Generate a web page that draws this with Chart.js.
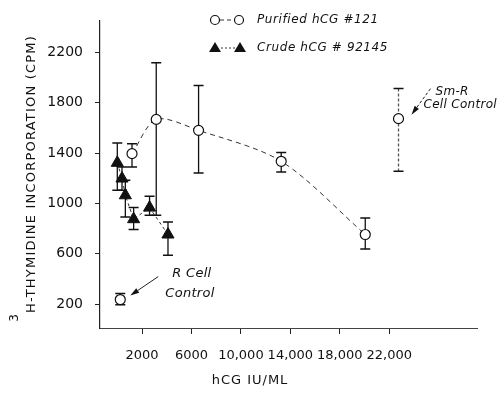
<!DOCTYPE html>
<html><head><meta charset="utf-8">
<script src="https://cdn.jsdelivr.net/npm/chart.js@4/dist/chart.umd.min.js"></script>
<style>html,body{margin:0;padding:0;background:#fff}#wrap{width:502px;height:400px;position:relative}</style>
</head><body><div id="wrap"><canvas id="c" width="502" height="400"></canvas></div>
<script>
// ---- data ----
const purifiedX  = [1190, 3150, 6575, 13260, 20060];
const purifiedY  = [1396, 1668, 1581, 1335, 753];
const purifiedHi = [1475, 2118, 1938, 1404, 885];
const purifiedLo = [1290, 906, 1242, 1250, 637];

const crudeX  = [0, 380, 650, 1320, 2610, 4100];
const crudeY  = [1323, 1198, 1065, 875, 967, 753];
const crudeHi = [1480, 1290, 1184, 967, 1057, 853];
const crudeLo = [1105, 1105, 893, 793, 906, 589];

const controlNames = [['Sm-R', 'Cell Control'], ['R Cell', 'Control']];
const controlX  = [22750, 240];
const controlY  = [1674, 236];
const controlHi = [1914, 285];
const controlLo = [1256, 195];

const xTicks = [2000, 6000, 10000, 14000, 18000, 22000];
const xTickLabels = ['2000', '6000', '10,000', '14,000', '18,000', '22,000'];
const yTicks = [200, 600, 1000, 1400, 1800, 2200];
const yTickLabels = ['200', '600', '1000', '1400', '1800', '2200'];
const seriesNames = ['Purified hCG #121', 'Crude hCG # 92145'];
const xTitle = 'hCG IU/ML';
const yTitle = 'H-THYMIDINE INCORPORATION (CPM)';
const ySup = '3';

const pts = (xs, ys) => xs.map((v, i) => ({x: v, y: ys[i]}));
const INK = '#111';

const errorBars = {
  id: 'errorBars',
  beforeDatasetsDraw(chart) {
    const {ctx, scales: {x, y}} = chart;
    const groups = [[purifiedX, purifiedHi, purifiedLo], [crudeX, crudeHi, crudeLo], [controlX, controlHi, controlLo]];
    ctx.save();
    groups.forEach((g, gi) => {
      g[0].forEach((xv, i) => {
        const px = x.getPixelForValue(xv);
        const top = y.getPixelForValue(g[1][i]);
        const bot = y.getPixelForValue(g[2][i]);
        const light = gi === 2 && i === 0;
        ctx.strokeStyle = light ? '#555' : INK;
        ctx.lineWidth = 1.3;
        ctx.setLineDash(light ? [3, 2] : []);
        ctx.beginPath(); ctx.moveTo(px, top); ctx.lineTo(px, bot); ctx.stroke();
        ctx.setLineDash([]);
        ctx.strokeStyle = INK;
        ctx.lineWidth = 1.5;
        ctx.beginPath();
        ctx.moveTo(px - 5, top); ctx.lineTo(px + 5, top);
        ctx.moveTo(px - 5, bot); ctx.lineTo(px + 5, bot);
        ctx.stroke();
      });
    });
    ctx.restore();
  }
};

function arrow(ctx, x0, y0, x1, y1, dashed) {
  const ang = Math.atan2(y1 - y0, x1 - x0);
  const L = 9, W = 2.6;
  const bx = x1 - Math.cos(ang) * L, by = y1 - Math.sin(ang) * L;
  ctx.strokeStyle = '#222'; ctx.lineWidth = 1;
  ctx.setLineDash(dashed ? [3, 2] : []);
  ctx.beginPath(); ctx.moveTo(x0, y0); ctx.lineTo(bx, by); ctx.stroke();
  ctx.setLineDash([]);
  ctx.fillStyle = '#111';
  ctx.beginPath();
  ctx.moveTo(x1, y1);
  ctx.lineTo(bx - Math.sin(ang) * W, by + Math.cos(ang) * W);
  ctx.lineTo(bx + Math.sin(ang) * W, by - Math.cos(ang) * W);
  ctx.closePath(); ctx.fill();
}

const decor = {
  id: 'decor',
  afterDraw(chart) {
    const {ctx, scales: {x, y}} = chart;
    ctx.save();
    // y title (rotated), stretched to the reference length
    ctx.fillStyle = INK;
    ctx.font = '13px "DejaVu Sans"';
    ctx.letterSpacing = '0px';
    const w0 = ctx.measureText(yTitle).width;
    const targetLen = 278;
    ctx.letterSpacing = ((targetLen - w0) / yTitle.length) + 'px';
    ctx.translate(32, 174);
    ctx.rotate(-Math.PI / 2);
    const w = ctx.measureText(yTitle).width;
    ctx.textAlign = 'left'; ctx.textBaseline = 'middle';
    ctx.fillText(yTitle, -w / 2, 0);
    ctx.letterSpacing = '0px';
    ctx.font = '12px "DejaVu Sans"';
    ctx.textAlign = 'right';
    ctx.fillText(ySup, -w / 2 - 1, -17);
    ctx.restore();

    ctx.save();
    // x title
    ctx.fillStyle = INK;
    ctx.font = '13px "DejaVu Sans"';
    ctx.letterSpacing = '1px';
    ctx.textAlign = 'center'; ctx.textBaseline = 'middle';
    ctx.fillText(xTitle, 250, 381);
    ctx.letterSpacing = '0px';

    // legend
    ctx.font = 'italic 12px "DejaVu Sans"';
    ctx.letterSpacing = '0.6px';
    ctx.textAlign = 'left';
    ctx.strokeStyle = '#333'; ctx.lineWidth = 1;
    ctx.setLineDash([4, 3]);
    ctx.beginPath(); ctx.moveTo(220, 20); ctx.lineTo(234, 20); ctx.stroke();
    ctx.setLineDash([2, 2]);
    ctx.beginPath(); ctx.moveTo(221, 48); ctx.lineTo(235, 48); ctx.stroke();
    ctx.setLineDash([]);
    ctx.lineWidth = 1.2; ctx.strokeStyle = INK; ctx.fillStyle = '#fff';
    [215, 239].forEach(cx => { ctx.beginPath(); ctx.arc(cx, 20, 4.5, 0, Math.PI * 2); ctx.fill(); ctx.stroke(); });
    ctx.fillStyle = INK;
    [215, 240].forEach(cx => {
      ctx.beginPath(); ctx.moveTo(cx, 42); ctx.lineTo(cx + 6, 52); ctx.lineTo(cx - 6, 52); ctx.closePath(); ctx.fill();
    });
    ctx.fillText(seriesNames[0], 257, 20);
    ctx.fillText(seriesNames[1], 257, 48);

    // control annotations
    const p0x = x.getPixelForValue(controlX[0]), p0y = y.getPixelForValue(controlY[0]);
    arrow(ctx, p0x + 32, p0y - 30, p0x + 13, p0y - 4, true);
    ctx.fillStyle = INK;
    ctx.letterSpacing = '0.3px';
    ctx.fillText(controlNames[0][0], p0x + 37, p0y - 27);
    ctx.fillText(controlNames[0][1], p0x + 25, p0y - 14);

    const p1x = x.getPixelForValue(controlX[1]), p1y = y.getPixelForValue(controlY[1]);
    arrow(ctx, p1x + 38, p1y - 23, p1x + 10, p1y - 4, false);
    ctx.fillStyle = INK;
    ctx.font = 'italic 13px "DejaVu Sans"';
    ctx.fillText(controlNames[1][0], p1x + 52, p1y - 26);
    ctx.fillText(controlNames[1][1], p1x + 45, p1y - 6);
    ctx.restore();
  }
};

new Chart(document.getElementById('c'), {
  type: 'scatter',
  data: {
    datasets: [
      {
        label: seriesNames[0], data: pts(purifiedX, purifiedY), showLine: true,
        borderColor: '#333', borderWidth: 1, borderDash: [5, 4], tension: 0.3,
        pointStyle: 'circle', pointRadius: 5, pointBackgroundColor: '#fff',
        pointBorderColor: INK, pointBorderWidth: 1.2
      },
      {
        label: seriesNames[1], data: pts(crudeX, crudeY), showLine: true,
        borderColor: '#333', borderWidth: 1, borderDash: [3, 3], tension: 0,
        pointStyle: 'triangle', pointRadius: 7, pointBackgroundColor: INK,
        pointBorderColor: INK, pointBorderWidth: 1
      },
      {
        label: 'Controls', data: pts(controlX, controlY), showLine: false,
        pointStyle: 'circle', pointRadius: 5, pointBackgroundColor: '#fff',
        pointBorderColor: INK, pointBorderWidth: 1.2
      }
    ]
  },
  options: {
    responsive: false, animation: false,
    layout: {padding: {top: 20, right: 25, left: 0, bottom: 0}},
    plugins: {legend: {display: false}, tooltip: {enabled: false}},
    scales: {
      x: {
        type: 'linear', min: -1400, max: 29100,
        afterBuildTicks: s => { s.ticks = xTicks.map(v => ({value: v})); },
        afterFit: s => { s.height = 72; },
        ticks: {
          autoSkip: false, maxRotation: 0, padding: 14, color: INK,
          font: {family: 'DejaVu Sans', size: 13},
          callback: v => xTickLabels[xTicks.indexOf(v)]
        },
        grid: {display: true, drawOnChartArea: false, drawTicks: true, tickLength: 6, color: '#222', tickWidth: 1},
        border: {display: true, color: '#444', width: 1}
      },
      y: {
        type: 'linear', min: 10, max: 2455,
        afterBuildTicks: s => { s.ticks = yTicks.map(v => ({value: v})); },
        afterFit: s => { s.width = 100; },
        ticks: {
          autoSkip: false, padding: 12, color: INK,
          font: {family: 'DejaVu Sans', size: 14},
          callback: v => yTickLabels[yTicks.indexOf(v)]
        },
        grid: {display: true, drawOnChartArea: false, drawTicks: true, tickLength: 5, color: '#222'},
        border: {display: true, color: '#222', width: 1.2}
      }
    }
  },
  plugins: [errorBars, decor]
});
</script></body></html>
